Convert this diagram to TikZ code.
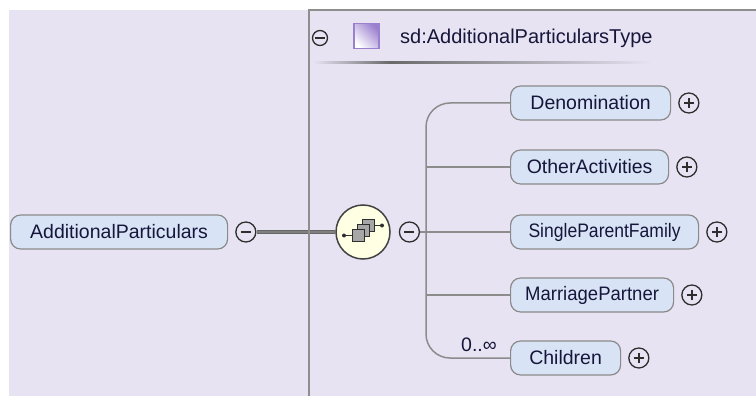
\documentclass[tikz,border=0pt]{standalone}
\usepackage{fontspec}
\setmainfont{Liberation Sans}
\usetikzlibrary{positioning}

\definecolor{bgcol}{HTML}{E7E3F3}
\definecolor{panelcol}{HTML}{8E8E8E}
\definecolor{boxfill}{HTML}{D8E4F6}
\definecolor{boxcol}{HTML}{8A8A8A}
\definecolor{txtcol}{HTML}{16163A}
\definecolor{conncol}{HTML}{8C8C8C}
\definecolor{btncol}{HTML}{2E2E2E}
\definecolor{seqfill}{HTML}{FFFFE4}
\definecolor{sqcol}{HTML}{9C80D0}
\definecolor{sepdark}{HTML}{6A6A6A}

\tikzset{
  btn/.style={circle, draw=btncol, line width=1.3pt, minimum size=20pt, inner sep=0pt},
  minusbtn/.style={btn, path picture={
      \draw[btncol, line width=1.3pt]
        ([xshift=-5pt]path picture bounding box.center) -- ([xshift=5pt]path picture bounding box.center);}},
  plusbtn/.style={btn, path picture={
      \draw[btncol, line width=1.3pt]
        ([xshift=-5pt]path picture bounding box.center) -- ([xshift=5pt]path picture bounding box.center)
        ([yshift=-5pt]path picture bounding box.center) -- ([yshift=5pt]path picture bounding box.center);}}
}

\begin{document}
\begin{tikzpicture}[x=1pt, y=-1pt,
                    every node/.style={font=\fontsize{19.5}{22}\selectfont, text=txtcol},
                    elem/.style={draw=boxcol, fill=boxfill, line width=1.2pt, rounded corners=10pt,
                                 minimum height=34pt, inner xsep=6pt, inner ysep=0pt, anchor=west},
                    conn/.style={draw=conncol, line width=1.5pt},
                    seqnode/.style={circle, draw=btncol!90, fill=seqfill, line width=1.5pt, minimum size=54pt},
                    icon/.style={draw=btncol, fill=black!35, line width=0.9pt}]
\useasboundingbox (0,0) rectangle (756,396);
\fill[bgcol] (9,10) rectangle (756,396);

% header of the type panel
\node[minusbtn, minimum size=15pt] (hdm) at (320,38) {};
\node[draw=sqcol, line width=1.2pt, minimum size=25pt, inner sep=0pt,
      left color=white, right color=sqcol, shading angle=135] (tsq) at (366.5,36) {};
\node[anchor=west, inner sep=0pt, font=\fontsize{20}{22}\selectfont] (tname) at (400,38) {sd:AdditionalParticularsType};
\shade[left color=bgcol, right color=sepdark] (313,62) rectangle (390,64);
\shade[left color=sepdark, right color=bgcol] (390,62) rectangle (652,64);

% element and sequence
\node[elem, minimum width=217pt] (AP) at (10,232) {AdditionalParticulars};
\node[minusbtn, right=7pt of AP] (APm) {};
\node[seqnode] (seq) at (363,232) {};
\node[minusbtn, right=8pt of seq] (seqm) {};
\coordinate (trunk) at (426,232);

% children
\node[elem, minimum width=160pt] (Den) at (510,103) {Denomination};
\node[plusbtn, right=7pt of Den] (Denp) {};
\node[elem, minimum width=158pt] (Oth) at (510,167) {OtherActivities};
\node[plusbtn, right=7pt of Oth] (Othp) {};
\node[elem, minimum width=188pt] (SPF) at (510,232) {\scalebox{0.9}[1]{SingleParentFamily}};
\node[plusbtn, right=7pt of SPF] (SPFp) {};
\node[elem, minimum width=163pt] (MP) at (510,295) {\scalebox{0.95}[1]{MarriagePartner}};
\node[plusbtn, right=7pt of MP] (MPp) {};
\node[elem, minimum width=110pt] (Ch) at (510,358) {Children};
\node[plusbtn, right=7pt of Ch] (Chp) {};
\node (mult) at (479,345) {0..∞};

% connectors
\draw[draw=black!60, line width=4pt] (APm) -- (seq);
\draw[draw=black!50, line width=1.6pt] (APm) -- (seq);
\draw[panelcol, line width=2pt] (309,396) -- (309,10) -- (756,10);
\draw[conn, rounded corners=24pt] (Den.west) -| (trunk) |- (Ch.west);
\draw[conn] (seqm) -- (SPF.west);
\draw[conn] (Oth.west) -- (Oth.west -| trunk);
\draw[conn] (MP.west) -- (MP.west -| trunk);

% sequence icon
\begin{scope}[shift={(seq.center)}]
  \foreach \d in {2,1,0}
    \draw[icon] ({-11+5*\d},{-2.5-5*\d}) rectangle +(12,12);
  \draw[btncol, line width=1pt] (-19,3.5) -- (-11,3.5);
  \draw[btncol, line width=1pt] (11,-6.5) -- (19,-6.5);
  \fill[btncol] (-19,3.5) circle (2);
  \fill[btncol] (19,-6.5) circle (2);
\end{scope}
\end{tikzpicture}
\end{document}
